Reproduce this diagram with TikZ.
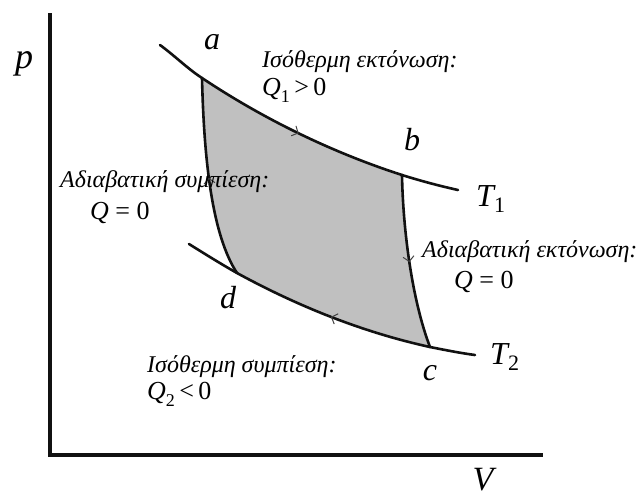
\documentclass[tikz,border=0pt]{standalone}
\usepackage{fontspec}
\setmainfont{Liberation Serif}
\usetikzlibrary{arrows.meta,decorations.markings}
\definecolor{Cycle}{HTML}{C0C0C0}
\definecolor{Ink}{HTML}{111111}
\tikzset{
  axis/.style={line width=3.4pt,draw=Ink},
  curve/.style={line width=2.6pt,draw=Ink,line cap=round},
  midarr/.style={postaction={decorate},decoration={markings,mark=at position .5 with {\arrow[line width=1pt,draw=Ink!80]{Straight Barb[length=5pt,width=11pt]}}}},
  ptlab/.style={font=\itshape\fontsize{32}{32}\selectfont,inner sep=0pt},
  note/.style={font=\itshape\fontsize{24}{26}\selectfont,inner sep=0pt,anchor=west},
  qlab/.style={font=\fontsize{26}{28}\selectfont,inner sep=0pt,anchor=west}
}
\newcommand{\Qsub}[1]{\textit{Q}\raisebox{-.6ex}{\fontsize{18}{18}\selectfont #1}}
\newcommand{\Tsub}[1]{\textit{T}\raisebox{-.45ex}{\fontsize{22}{22}\selectfont\upshape #1}}

\begin{document}
\begin{tikzpicture}[x=1pt,y=-1pt]
  \useasboundingbox (0,0) rectangle (637,499);
  % axes
  \coordinate (O) at (50,455);
  \coordinate (ytop) at (50,13);
  \coordinate (xend) at (543,455);
  \draw[axis] (ytop) -- (O) -- (xend);
  \node[ptlab,font=\itshape\fontsize{36}{36}\selectfont] (plab) at (24,64) {p};
  \node[ptlab,font=\itshape\fontsize{34}{34}\selectfont] (vlab) at (483,480) {V};
  % corners of the cycle
  \coordinate (a) at (202,78);
  \coordinate (b) at (402,175);
  \coordinate (c) at (430,347);
  \coordinate (d) at (237,273);
  \coordinate (t1s) at (160,45);
  \coordinate (t1e) at (458,190);
  \coordinate (t2s) at (189,244);
  \coordinate (t2e) at (475,355);
  % shaded work area
  \fill[Cycle] (a) .. controls (268,122) and (337,154) .. (b)
    .. controls (403,230) and (412,300) .. (c)
    .. controls (366,333) and (301,308) .. (d)
    .. controls (212,235) and (204,160) .. (a) -- cycle;
  % isotherm T1
  \draw[curve] (t1s) .. controls (175,56) and (188,69) .. (a);
  \draw[curve,midarr] (a) .. controls (268,122) and (337,154) .. (b);
  \draw[curve] (b) .. controls (421,181) and (440,186) .. (t1e);
  % isotherm T2
  \draw[curve] (t2s) .. controls (205,254) and (221,264) .. (d);
  \draw[curve,midarr] (c) .. controls (366,333) and (301,308) .. (d);
  \draw[curve] (c) .. controls (445,350) and (460,353) .. (t2e);
  % adiabats
  \draw[curve,midarr] (b) .. controls (403,230) and (412,300) .. (c);
  \draw[curve,midarr] (d) .. controls (212,235) and (204,160) .. (a);
  % labels
  \node[ptlab] (alab) at (212,42) {a};
  \node[ptlab] (blab) at (412,140) {b};
  \node[ptlab] (clab) at (430,373) {c};
  \node[ptlab] (dlab) at (228,298) {d};
  \node[ptlab,anchor=west] (T1) at (476,199) {\Tsub{1}};
  \node[ptlab,anchor=west] (T2) at (490,357) {\Tsub{2}};
  \node[note] (isoexp) at (262,62) {Ισόθερμη εκτόνωση:};
  \node[qlab] (q1) at (262,90) {\Qsub{1}\,>\,0};
  \node[note] (adcomp) at (60,182) {Αδιαβατική συμπίεση:};
  \node[qlab] (q0l) at (90,213) {\textit{Q} = 0};
  \node[note] (adexp) at (422,252) {Αδιαβατική εκτόνωση:};
  \node[qlab] (q0r) at (454,282) {\textit{Q} = 0};
  \node[note] (isocomp) at (147,367) {Ισόθερμη συμπίεση:};
  \node[qlab] (q2) at (147,394) {\Qsub{2}\,<\,0};
\end{tikzpicture}
\end{document}
